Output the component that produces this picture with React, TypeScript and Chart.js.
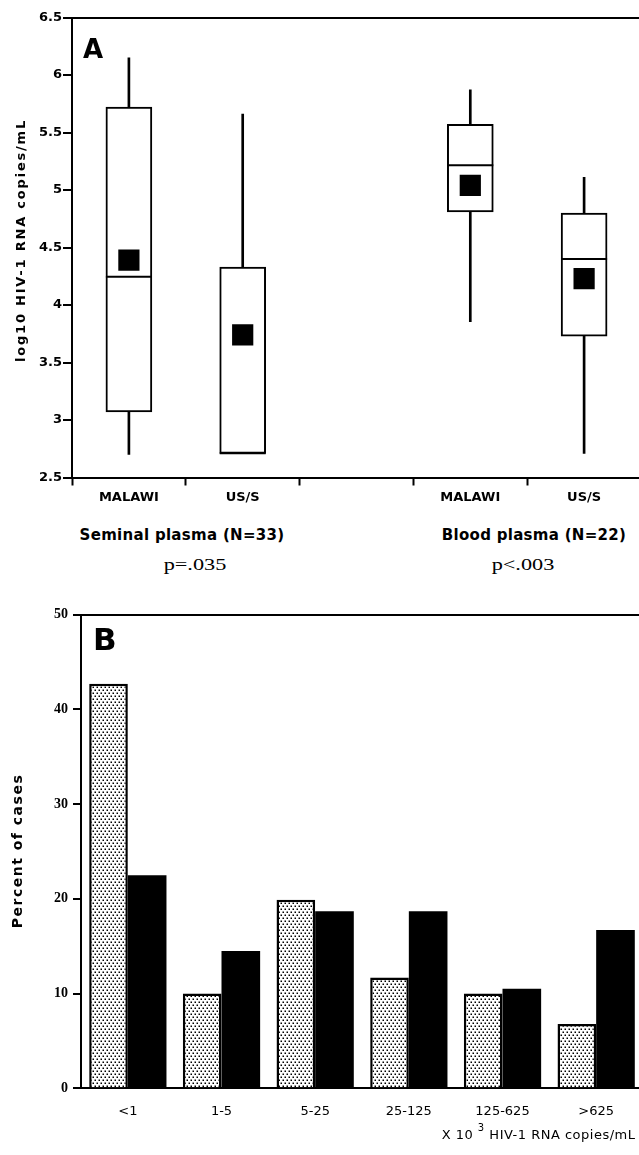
import React, { useEffect, useRef } from 'react';
import { Chart, registerables, LineController } from 'chart.js';

// Point-only marks for box plot (median bar, mean square) that do not pad the chart area
class MarkController extends (LineController as any) {
  getMaxOverflow() {
    return 0;
  }
}
(MarkController as any).id = 'mark';
(MarkController as any).defaults = { ...(LineController as any).defaults };
(MarkController as any).overrides = (LineController as any).overrides;

Chart.register(...registerables, MarkController as any);

// ---------- Panel A data (log10 HIV-1 RNA copies/mL) ----------
const groupLabelsA = ['MALAWI', 'US/S', '', 'MALAWI', 'US/S'];
const whiskerLow = [2.70, 2.71, null, 3.855, 2.71];
const whiskerHigh = [6.15, 5.66, null, 5.87, 5.11];
const boxLow = [3.07, 2.71, null, 4.81, 3.73];
const boxHigh = [5.72, 4.33, null, 5.57, 4.80];
const medians = [4.245, 2.71, null, 5.215, 4.40];
const means = [4.39, 3.74, null, 5.04, 4.23];
const yMinA = 2.5;
const yMaxA = 6.5;
const yStepA = 0.5;

// ---------- Panel B data (percent of cases) ----------
const rangeLabelsB = ['<1', '1-5', '5-25', '25-125', '125-625', '>625'];
const malawiPct = [42.7, 10.0, 19.9, 11.7, 10.0, 6.8];
const usPct = [22.5, 14.5, 18.7, 18.7, 10.5, 16.7];
const yMinB = 0;
const yMaxB = 50;
const yStepB = 10;

const SANS = "'DejaVu Sans', sans-serif";
const SERIF = "'Liberation Serif', serif";

function makeDotPattern(): CanvasPattern | string {
  const c = document.createElement('canvas');
  c.width = 4;
  c.height = 6;
  const g = c.getContext('2d');
  if (!g) return '#ddd';
  g.fillStyle = '#fff';
  g.fillRect(0, 0, 4, 6);
  g.fillStyle = '#000';
  g.fillRect(0.5, 0.5, 1.5, 1.5);
  g.fillRect(2.5, 3.5, 1.5, 1.5);
  const p = g.createPattern(c, 'repeat');
  return p || '#ddd';
}

export default function App() {
  const refA = useRef<HTMLCanvasElement | null>(null);
  const refB = useRef<HTMLCanvasElement | null>(null);

  useEffect(() => {
    if (!refA.current || !refB.current) return;

    const chartA = new Chart(refA.current, {
      type: 'bar',
      data: {
        labels: groupLabelsA,
        datasets: [
          {
            type: 'bar',
            label: 'range',
            data: whiskerLow.map((v, i) => (v == null ? null : [v, whiskerHigh[i] as number])) as any,
            backgroundColor: '#000',
            borderWidth: 0,
            barThickness: 2,
            grouped: false,
            order: 3,
          } as any,
          {
            type: 'bar',
            label: 'interquartile',
            data: boxLow.map((v, i) => (v == null ? null : [v, boxHigh[i] as number])) as any,
            backgroundColor: '#fff',
            borderColor: '#000',
            borderWidth: 2,
            borderSkipped: false,
            barThickness: 46,
            grouped: false,
            order: 2,
          } as any,
          {
            type: 'mark',
            label: 'median',
            data: medians as any,
            showLine: false,
            pointStyle: 'line',
            pointRadius: 23,
            pointBorderWidth: 2,
            pointBorderColor: '#000',
            borderColor: '#000',
            order: 1,
          } as any,
          {
            type: 'mark',
            label: 'mean',
            data: means as any,
            showLine: false,
            pointStyle: 'rect',
            pointRadius: 15,
            pointBackgroundColor: '#000',
            pointBorderWidth: 0,
            borderWidth: 0,
            order: 0,
          } as any,
        ],
      },
      options: {
        animation: false,
        responsive: false,
        maintainAspectRatio: false,
        events: [],
        layout: { padding: { top: 17.5, left: 0, right: 0, bottom: 0 } },
        plugins: { legend: { display: false }, tooltip: { enabled: false } },
        scales: {
          x: {
            type: 'category',
            offset: true,
            grid: {
              display: true,
              drawOnChartArea: false,
              drawTicks: true,
              tickLength: 8,
              tickColor: '#000',
              tickWidth: 2,
              offset: true,
            },
            border: { display: true, color: '#000', width: 2 },
            ticks: {
              color: '#000',
              font: { family: SANS, weight: 'bold', size: 13 },
              padding: 4,
              maxRotation: 0,
              autoSkip: false,
            },
            afterFit: (s: any) => {
              s.height = 32.5;
            },
          },
          y: {
            type: 'linear',
            min: yMinA,
            max: yMaxA,
            ticks: {
              stepSize: yStepA,
              color: '#000',
              font: { family: SANS, weight: 'bold', size: 13 },
              padding: 1,
              callback: (v: any) => String(Number(v)),
            },
            grid: {
              color: (c: any) => (c.tick && c.tick.value === yMaxA ? '#000' : 'rgba(0,0,0,0)'),
              lineWidth: 2,
              drawTicks: true,
              tickColor: '#000',
              tickLength: 9,
              tickWidth: 2,
            },
            border: { display: true, color: '#000', width: 2 },
            afterFit: (s: any) => {
              s.width = 72;
            },
          },
        },
      } as any,
    });

    const chartB = new Chart(refB.current, {
      type: 'bar',
      data: {
        labels: rangeLabelsB,
        datasets: [
          {
            label: 'Malawi',
            data: malawiPct,
            backgroundColor: makeDotPattern() as any,
            borderColor: '#000',
            borderWidth: 2.5,
            borderSkipped: 'start',
            categoryPercentage: 0.825,
            barPercentage: 1,
          },
          {
            label: 'US',
            data: usPct,
            backgroundColor: '#000',
            borderColor: '#000',
            borderWidth: 0,
            categoryPercentage: 0.825,
            barPercentage: 1,
          },
        ],
      },
      options: {
        animation: false,
        responsive: false,
        maintainAspectRatio: false,
        events: [],
        layout: { padding: { top: 24.7, left: 0, right: 0, bottom: 0 } },
        plugins: { legend: { display: false }, tooltip: { enabled: false } },
        scales: {
          x: {
            grid: { display: false, drawTicks: false, drawOnChartArea: false },
            border: { display: true, color: '#000', width: 2 },
            ticks: {
              color: '#000',
              font: { family: SANS, size: 13 },
              padding: 16,
              maxRotation: 0,
              autoSkip: false,
            },
            afterFit: (s: any) => {
              s.height = 66.7;
            },
          },
          y: {
            min: yMinB,
            max: yMaxB,
            ticks: {
              stepSize: yStepB,
              color: '#000',
              font: { family: SERIF, weight: 'bold', size: 14 },
              padding: 5,
            },
            grid: {
              color: (c: any) => (c.tick && c.tick.value === yMaxB ? '#000' : 'rgba(0,0,0,0)'),
              lineWidth: 2,
              drawTicks: true,
              tickColor: '#000',
              tickLength: 8,
              tickWidth: 2,
            },
            border: { display: true, color: '#000', width: 2 },
            afterFit: (s: any) => {
              s.width = 81;
            },
          },
        },
      } as any,
    });

    return () => {
      chartA.destroy();
      chartB.destroy();
    };
  }, []);

  const abs = (extra: React.CSSProperties): React.CSSProperties => ({
    position: 'absolute',
    whiteSpace: 'nowrap',
    color: '#000',
    margin: 0,
    ...extra,
  });

  return (
    <div
      style={{
        position: 'absolute',
        left: 0,
        top: 0,
        width: 639,
        height: 1155,
        overflow: 'hidden',
        background: '#fff',
      }}
    >
      <canvas
        ref={refA}
        width={641}
        height={510}
        style={{ position: 'absolute', left: 0, top: 0, width: 641, height: 510 }}
      />
      <canvas
        ref={refB}
        width={643}
        height={565}
        style={{ position: 'absolute', left: 0, top: 590, width: 643, height: 565 }}
      />

      {/* Panel letters */}
      <div style={abs({ left: 83, top: 36.3, fontFamily: SANS, fontWeight: 'bold', fontSize: 26, lineHeight: '26px' })}>A</div>
      <div style={abs({ left: 93, top: 623.8, fontFamily: SANS, fontWeight: 'bold', fontSize: 31, lineHeight: '31px' })}>B</div>

      {/* Panel A y title */}
      <div
        style={abs({
          left: 19.5 - 150,
          top: 240 - 6.5,
          width: 300,
          height: 13,
          textAlign: 'center',
          fontFamily: SANS,
          fontWeight: 'bold',
          fontSize: 13,
          lineHeight: '13px',
          letterSpacing: '1.8px',
          transform: 'rotate(-90deg)',
          transformOrigin: '50% 50%',
        })}
      >
        log10 HIV-1 RNA copies/mL
      </div>

      {/* Group captions */}
      <div style={abs({ left: 182 - 150, top: 527.6, width: 300, textAlign: 'center', fontFamily: SANS, fontWeight: 'bold', fontSize: 15, lineHeight: '15px', letterSpacing: '0.3px' })}>
        Seminal plasma (N=33)
      </div>
      <div style={abs({ left: 534 - 150, top: 527.6, width: 300, textAlign: 'center', fontFamily: SANS, fontWeight: 'bold', fontSize: 15, lineHeight: '15px', letterSpacing: '0.3px' })}>
        Blood plasma (N=22)
      </div>
      <div style={abs({ left: 195 - 100, top: 556.7, width: 200, textAlign: 'center', fontFamily: SERIF, fontSize: 16.5, lineHeight: '16.5px', transform: 'scaleX(1.35)', transformOrigin: '50% 50%' })}>
        p=.035
      </div>
      <div style={abs({ left: 523 - 100, top: 556.7, width: 200, textAlign: 'center', fontFamily: SERIF, fontSize: 16.5, lineHeight: '16.5px', transform: 'scaleX(1.35)', transformOrigin: '50% 50%' })}>
        p&lt;.003
      </div>

      {/* Panel B y title */}
      <div
        style={abs({
          left: 17 - 120,
          top: 851 - 7,
          width: 240,
          height: 14,
          textAlign: 'center',
          fontFamily: SANS,
          fontWeight: 'bold',
          fontSize: 14,
          lineHeight: '14px',
          letterSpacing: '1.5px',
          transform: 'rotate(-90deg)',
          transformOrigin: '50% 50%',
        })}
      >
        Percent of cases
      </div>

      {/* Panel B x caption */}
      <div style={abs({ right: 3.5, top: 1128, fontFamily: SANS, fontSize: 13, lineHeight: '13px', letterSpacing: '0.5px' })}>
        X 10 <span style={{ fontSize: 10, position: 'relative', top: -8.5 }}>3</span> HIV-1 RNA copies/mL
      </div>
    </div>
  );
}
